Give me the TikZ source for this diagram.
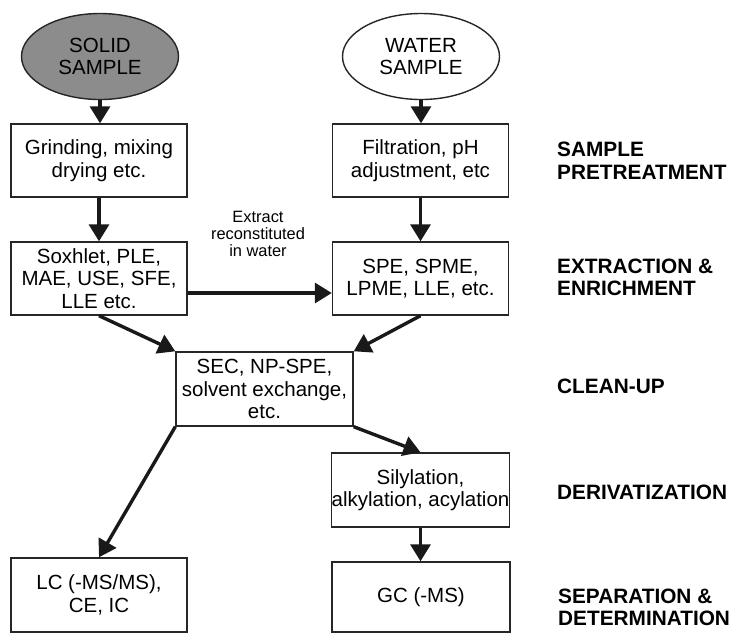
\documentclass[tikz,border=0pt]{standalone}
\usepackage{fontspec}
\setmainfont{Liberation Sans}
\usetikzlibrary{shapes.geometric,arrows.meta}
\begin{document}
\begin{tikzpicture}[x=1pt,y=-1pt,
  box/.style={draw=black!85,line width=1.4pt,rectangle,inner sep=0pt,align=center,
    minimum width=176pt,minimum height=73pt,font=\fontsize{20.5}{22.5}\selectfont},
  oval/.style={draw=black!85,line width=1.4pt,ellipse,inner sep=0pt,align=center,
    minimum width=157pt,minimum height=86pt,font=\fontsize{20.5}{22.5}\selectfont},
  stage/.style={anchor=west,align=left,inner sep=0pt,font=\bfseries\fontsize{20.8}{22.5}\selectfont},
  note/.style={align=center,inner sep=0pt,font=\fontsize{16.4}{17.2}\selectfont},
  arr/.style={draw=black!90,line width=3.4pt,-{Triangle[width=20pt,length=17pt]}}
]
\useasboundingbox (0,0) rectangle (729,633);

\node[oval,fill=black!45] (solid) at (100,56.5) {SOLID\\SAMPLE};
\node[oval,fill=white] (water) at (421,56.5) {WATER\\SAMPLE};

\node[box] (grind) at (99,160.5) {Grinding, mixing\\drying etc.};
\node[box] (filt) at (420.5,160.5) {Filtration, pH\\adjustment, etc};
\node[box] (sox) at (99,278.5) {Soxhlet, PLE,\\MAE, USE, SFE,\\LLE etc.};
\node[box] (spe) at (420.5,278.5) {SPE, SPME,\\LPME, LLE, etc.};
\node[box,minimum width=177pt,minimum height=74pt] (clean) at (264.5,389) {SEC, NP-SPE,\\solvent exchange,\\etc.};
\node[box,minimum width=177pt,minimum height=74pt] (sily) at (420.5,490) {Silylation,\\alkylation, acylation};
\node[box,minimum width=176pt,minimum height=74pt] (lc) at (99,595) {LC (-MS/MS),\\CE, IC};
\node[box,minimum width=178pt,minimum height=70pt] (gc) at (421,597) {GC (-MS)};

\node[note] (extract) at (258,234) {Extract\\reconstituted\\in water};

\node[stage] (st1) at (557,160.5) {SAMPLE\\PRETREATMENT};
\node[stage] (st2) at (557,277.5) {EXTRACTION \&\\ENRICHMENT};
\node[stage] (st3) at (557,386) {CLEAN-UP};
\node[stage] (st4) at (557,492) {DERIVATIZATION};
\node[stage] (st5) at (558,607.5) {SEPARATION \&\\DETERMINATION};

\draw[arr] (solid.south) -- (solid.south |- grind.north);
\draw[arr] (water.south) -- (water.south |- filt.north);
\draw[arr] (grind.south) -- (sox.north);
\draw[arr] (filt.south) -- (spe.north);
\draw[arr] (sox.east |- 0,293) -- (spe.west |- 0,293);
\draw[arr] (sox.south) -- (clean.north west);
\draw[arr] (spe.south) -- (clean.north east);
\draw[arr] (clean.south west) -- (lc.north);
\draw[arr] (clean.south east) -- (sily.north);
\draw[arr] (sily.south) -- (sily.south |- gc.north);
\end{tikzpicture}
\end{document}
